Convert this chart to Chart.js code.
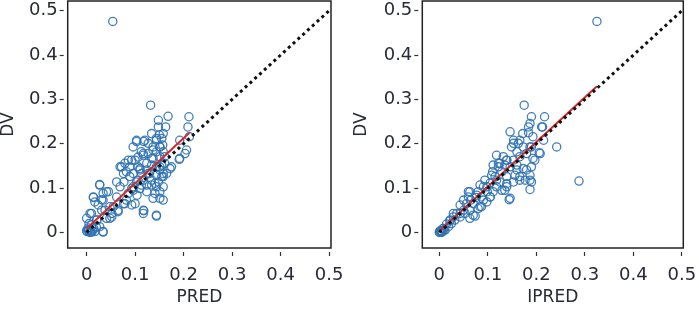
<!DOCTYPE html>
<html>
<head>
<meta charset="utf-8">
<script src="https://cdn.jsdelivr.net/npm/chart.js@4"></script>
<style>
  html, body { margin: 0; padding: 0; background: #fff; }
  .panel { position: absolute; top: 0; }
</style>
</head>
<body>
<div class="panel" style="left:0"><canvas id="chart-pred" width="345" height="316"></canvas></div>
<div class="panel" style="left:350px"><canvas id="chart-ipred" width="349" height="316"></canvas></div>
<script>
// --- Data ---
const tickValues = [0, 0.1, 0.2, 0.3, 0.4, 0.5];

// Left panel: DV vs PRED
const predX = [0.054, 0.132, 0.168, 0.211, 0.148, 0.163, 0.209, 0.212, 0.192, 0.134, 0.150, 0.103, 0.118, 0.127, 0.144, 0.157,
  0.096, 0.137, 0.113, 0.203, 0.191, 0.175, 0.069, 0.086, 0.076, 0.089, 0.106, 0.124, 0.137, 0.151, 0.158, 0.144,
  0.110, 0.130, 0.151, 0.161, 0.165, 0.117, 0.134, 0.148, 0.158, 0.124, 0.141, 0.158, 0.151, 0.137, 0.104, 0.093,
  0.082, 0.093, 0.100, 0.118, 0.117, 0.144, 0.065, 0.055, 0.052, 0.041, 0.027, 0.041, 0.014, 0.017, 0.031, 0.024,
  0.038, 0.010, 0.021, 0.000, 0.007, 0.001, 0.000, 0.007, 0.017, 0.034, 0.027, 0.010, 0.045, 0.034, 0.052, 0.076,
  0.086, 0.062, 0.069, 0.103, 0.106, 0.096, 0.113, 0.124, 0.134, 0.127, 0.144, 0.155, 0.151, 0.158, 0.155, 0.144,
  0.155, 0.161, 0.148, 0.158, 0.137, 0.117, 0.100, 0.079, 0.089, 0.077, 0.062, 0.096, 0.110, 0.124, 0.134, 0.144,
  0.106, 0.004, 0.012, 0.003, 0.015, 0.008, 0.020, 0.005,
  0.103, 0.120, 0.144, 0.151, 0.117, 0.134, 0.093, 0.072, 0.082, 0.110, 0.127, 0.151, 0.158, 0.141, 0.113, 0.096,
  0.151, 0.172, 0.192, 0.206, 0.027, 0.014, 0.034, 0.048, 0.031, 0.007, 0.021, 0.003, 0.010, 0.034, 0.065, 0.079,
  0.117, 0.144, 0.048];
const predDV = [0.476, 0.287, 0.262, 0.261, 0.253, 0.238, 0.238, 0.216, 0.208, 0.223, 0.220, 0.208, 0.205, 0.201, 0.208, 0.197,
  0.193, 0.193, 0.182, 0.178, 0.165, 0.148, 0.148, 0.163, 0.133, 0.126, 0.170, 0.156, 0.167, 0.171, 0.182, 0.148,
  0.141, 0.133, 0.141, 0.156, 0.133, 0.118, 0.107, 0.114, 0.103, 0.092, 0.088, 0.073, 0.077, 0.077, 0.084, 0.099,
  0.073, 0.062, 0.065, 0.049, 0.043, 0.037, 0.047, 0.058, 0.035, 0.032, 0.108, 0.092, 0.079, 0.069, 0.074, 0.062,
  0.050, 0.043, 0.028, 0.032, 0.005, 0.002, 0.004, 0.000, 0.002, 0.002, 0.013, 0.017, 0.092, 0.088, 0.043, 0.065,
  0.088, 0.080, 0.103, 0.114, 0.148, 0.133, 0.133, 0.141, 0.152, 0.178, 0.182, 0.212, 0.193, 0.133, 0.126, 0.129,
  0.152, 0.171, 0.238, 0.223, 0.186, 0.174, 0.163, 0.156, 0.148, 0.114, 0.114, 0.103, 0.099, 0.107, 0.118, 0.103,
  0.118, 0.006, 0.003, 0.010, 0.008, 0.001, 0.012, 0.020,
  0.205, 0.208, 0.212, 0.193, 0.178, 0.167, 0.163, 0.148, 0.137, 0.144, 0.133, 0.148, 0.126, 0.111, 0.107, 0.095,
  0.092, 0.144, 0.167, 0.186, 0.107, 0.080, 0.073, 0.058, 0.050, 0.043, 0.028, 0.005, 0.001, 0.001, 0.050, 0.065,
  0.050, 0.039, 0.032];

// Right panel: DV vs IPRED
const ipredX = [0.325, 0.288, 0.242, 0.175, 0.190, 0.217, 0.187, 0.213, 0.184, 0.146, 0.172, 0.193, 0.215, 0.153, 0.163, 0.187,
  0.206, 0.193, 0.118, 0.132, 0.125, 0.139, 0.146, 0.111, 0.160, 0.173, 0.190, 0.187, 0.190, 0.187, 0.177, 0.153,
  0.144, 0.135, 0.125, 0.139, 0.129, 0.115, 0.105, 0.118, 0.099, 0.098, 0.087, 0.091, 0.080, 0.063, 0.076, 0.065,
  0.056, 0.050, 0.063, 0.074, 0.063, 0.080, 0.043, 0.036, 0.029, 0.022, 0.015, 0.008, 0.003, 0.000, 0.005, 0.012,
  0.019, 0.025, 0.110, 0.122, 0.135, 0.153, 0.166, 0.160, 0.149, 0.173, 0.180, 0.166, 0.156, 0.139, 0.129, 0.105,
  0.111, 0.094, 0.084, 0.070, 0.060, 0.087, 0.050, 0.053, 0.043, 0.032, 0.002, 0.006, 0.010, 0.004,
  0.184, 0.211, 0.153, 0.166, 0.190, 0.122, 0.139, 0.160, 0.180, 0.197, 0.208, 0.187, 0.146, 0.139, 0.118, 0.098,
  0.108, 0.077, 0.060, 0.084, 0.070, 0.043, 0.029, 0.022, 0.008, 0.001, 0.091, 0.105, 0.166];
const ipredDV = [0.476, 0.116, 0.193, 0.287, 0.261, 0.261, 0.246, 0.238, 0.225, 0.227, 0.223, 0.216, 0.208, 0.208, 0.201, 0.193,
  0.180, 0.167, 0.174, 0.171, 0.156, 0.163, 0.148, 0.152, 0.141, 0.144, 0.148, 0.129, 0.114, 0.097, 0.118, 0.114,
  0.074, 0.095, 0.114, 0.126, 0.137, 0.126, 0.112, 0.103, 0.092, 0.069, 0.080, 0.103, 0.092, 0.092, 0.079, 0.073,
  0.065, 0.050, 0.050, 0.037, 0.032, 0.054, 0.062, 0.043, 0.035, 0.026, 0.019, 0.009, 0.004, 0.000, 0.000, 0.005,
  0.013, 0.020, 0.137, 0.148, 0.152, 0.163, 0.171, 0.182, 0.193, 0.193, 0.178, 0.126, 0.129, 0.110, 0.095, 0.080,
  0.092, 0.118, 0.107, 0.065, 0.080, 0.058, 0.073, 0.043, 0.035, 0.028, 0.001, 0.002, 0.006, 0.003,
  0.238, 0.238, 0.201, 0.208, 0.193, 0.156, 0.163, 0.152, 0.141, 0.163, 0.178, 0.118, 0.077, 0.103, 0.118, 0.103,
  0.129, 0.084, 0.092, 0.058, 0.039, 0.043, 0.043, 0.028, 0.009, 0.003, 0.073, 0.080, 0.118];

// Regression (red) and identity (dotted) line ends
const predFitX = [0, 0.212];
const predFitY = [0.009, 0.225];
const ipredFitX = [0, 0.325];
const ipredFitY = [0.003, 0.330];
const identity = [0, 0.5];

// --- Styling ---
const textColor = '#272b33';
const pointColor = 'rgba(47, 114, 178, 0.9)';

// don't let marker size push the plot box inwards
Chart.ScatterController.prototype.getMaxOverflow = function () { return 0; };

const toPoints = (xs, ys) => xs.map((x, i) => ({ x, y: ys[i] }));

// draws the full box around the plotting area
const framePlugin = {
    id: 'frame',
    afterDraw(chart) {
        const { ctx, chartArea: a } = chart;
        ctx.save();
        ctx.strokeStyle = '#222';
        ctx.lineWidth = 1.5;
        ctx.strokeRect(a.left, a.top, a.right - a.left, a.bottom - a.top);
        ctx.restore();
    }
};

// keep the plot box where the reference has it, whatever the label sizes
function noScalePadding(s) {
    s.paddingLeft = 0;
    s.paddingRight = 0;
    s.paddingTop = 0;
    s.paddingBottom = 0;
}

function makePanel(canvasId, xs, ys, fitX, fitY, xTitle, opts) {
    const ctx = document.getElementById(canvasId).getContext('2d');
    return new Chart(ctx, {
        type: 'scatter',
        data: {
            datasets: [
                {
                    data: toPoints(identity, identity),
                    showLine: true,
                    borderColor: '#111',
                    borderWidth: 3,
                    borderDash: [3, 3.5],
                    pointRadius: 0,
                    order: 1
                },
                {
                    data: toPoints(fitX, fitY),
                    showLine: true,
                    borderColor: '#d42a2a',
                    borderWidth: 2,
                    pointRadius: 0,
                    order: 2
                },
                {
                    data: toPoints(xs, ys),
                    pointStyle: 'circle',
                    pointRadius: 4.1,
                    pointBorderWidth: 1.3,
                    pointBorderColor: pointColor,
                    pointBackgroundColor: 'rgba(0,0,0,0)',
                    order: 3
                }
            ]
        },
        options: {
            responsive: false,
            animation: false,
            devicePixelRatio: 1,
            layout: { padding: { left: opts.padLeft, right: opts.padRight, top: 1, bottom: 9.5 } },
            plugins: { legend: { display: false }, tooltip: { enabled: false } },
            scales: {
                x: {
                    type: 'linear',
                    min: opts.xMin,
                    max: opts.xMax,
                    afterBuildTicks: s => { s.ticks = tickValues.map(v => ({ value: v })); },
                    afterFit: s => { s.height = 58.5; noScalePadding(s); },
                    border: { display: false },
                    grid: {
                        drawOnChartArea: false,
                        tickLength: 8,
                        tickWidth: 1.2,
                        tickColor: '#333',
                        tickBorderDash: [4, 4],
                        tickBorderDashOffset: 4
                    },
                    ticks: {
                        color: textColor,
                        padding: 9,
                        maxRotation: 0,
                        font: { family: 'DejaVu Sans', size: 18 },
                        callback: v => (v === 0 ? '0' : v.toFixed(1))
                    },
                    title: {
                        display: true,
                        text: xTitle,
                        color: textColor,
                        padding: 0,
                        font: { family: 'DejaVu Sans', size: 17, lineHeight: 1 }
                    }
                },
                y: {
                    type: 'linear',
                    min: -0.035,
                    max: 0.522,
                    afterBuildTicks: s => { s.ticks = tickValues.map(v => ({ value: v })); },
                    afterFit: s => { s.width = opts.yWidth; noScalePadding(s); },
                    border: { display: false },
                    grid: {
                        drawOnChartArea: false,
                        tickLength: 8,
                        tickWidth: 1.2,
                        tickColor: '#333',
                        tickBorderDash: [4, 4]
                    },
                    ticks: {
                        color: textColor,
                        padding: 2,
                        font: { family: 'DejaVu Sans', size: 18 },
                        callback: v => (v === 0 ? '0' : v.toFixed(1))
                    },
                    title: {
                        display: true,
                        text: 'DV',
                        color: textColor,
                        padding: 0,
                        font: { family: 'DejaVu Sans', size: 17, lineHeight: 1 }
                    }
                }
            }
        },
        plugins: [framePlugin]
    });
}

makePanel('chart-pred', predX, predDV, predFitX, predFitY, 'PRED',
    { xMin: -0.039, xMax: 0.504, padLeft: 0, padRight: 14, yWidth: 67.7 });
makePanel('chart-ipred', ipredX, ipredDV, ipredFitX, ipredFitY, 'IPRED',
    { xMin: -0.035, xMax: 0.503, padLeft: 3, padRight: 15.7, yWidth: 69.3 });
</script>
</body>
</html>
